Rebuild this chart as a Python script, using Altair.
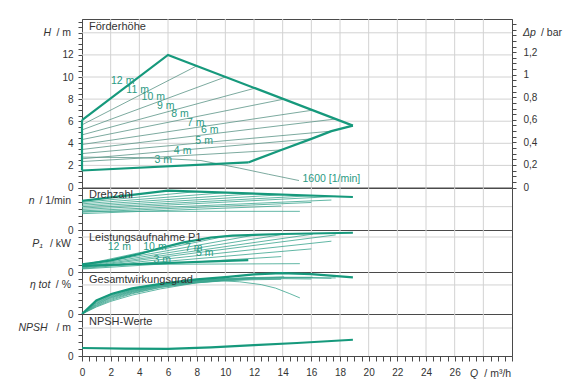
import altair as alt
import pandas as pd

# ---------------- data ----------------
X_DOMAIN = [0, 30]
x_grid = [2, 4, 6, 8, 10, 12, 14, 16, 18, 20, 22, 24, 26, 28]
x_ticks = [i * 0.5 for i in range(61)]

# --- Förderhöhe H [m] ---
H_DOMAIN = [0, 15.25]
h_grid = [2, 4, 6, 8, 10, 12, 14]
h_ticks = [i * 0.5 for i in range(31)]
DP_DOMAIN = [0, 1.494]
dp_ticks = [round(i * 0.05, 2) for i in range(30)]

env_top_q = [0.0, 6.0, 18.9]
env_top_h = [6.1, 12.0, 5.6]
env_right_q = [11.6, 13.9, 16.0, 17.4, 18.9]
env_right_h = [2.27, 3.4, 4.4, 5.1, 5.6]
env_bottom_q = [0.0, 11.6]
env_bottom_h = [1.54, 2.27]
env_left_q = [0.0, 0.0]
env_left_h = [1.54, 6.1]

dpv_names = ["11 m", "10 m", "9 m", "8 m", "7 m", "6 m", "5 m", "4 m", "3 m"]
dpv_h_start = [5.67, 5.21, 4.76, 4.34, 3.89, 3.44, 3.07, 2.6, 2.35]
dpv_q_end = [8.0, 10.0, 12.1, 14.1, 16.1, 17.7, 17.4, 16.0, 13.9]
dpv_h_end = [11.0, 10.0, 9.0, 8.0, 7.0, 6.2, 5.1, 4.4, 3.4]

min_speed_q = [0.0, 4.0, 6.0, 8.3, 11.0, 13.0, 15.14]
min_speed_h = [2.75, 2.7, 2.6, 2.44, 1.75, 1.2, 0.63]

h_label_text = ["12 m", "11 m", "10 m", "9 m", "8 m", "7 m", "6 m", "5 m", "4 m", "3 m"]
h_label_q = [2.84, 3.88, 4.97, 5.85, 6.83, 7.94, 8.92, 8.52, 7.02, 5.67]
h_label_h = [9.61, 8.86, 8.16, 7.39, 6.66, 5.88, 5.22, 4.25, 3.28, 2.5]
min_label_text = ["1600 [1/min]"]
min_label_q = [15.38]
min_label_h = [0.79]

# --- Drehzahl n [1/min] ---
N_DOMAIN = [0, 3600]
n_ticks = [0, 600, 1200, 1800, 2400, 3000, 3600]
n_grid = [2000]
n_thick_q = [0.0, 6.0, 18.9]
n_thick_v = [2490, 3370, 2830]
n_start = [2360, 2240, 2120, 2000, 1880, 1760, 1640, 1520, 1400]
n_end = [3290, 3200, 3115, 3030, 2945, 2880, 2570, 2360, 2060]
n_min_q = [0.0, 15.2]
n_min_v = [1600, 1600]

# --- Leistungsaufnahme P1 [kW] ---
P_DOMAIN = [0, 0.6]
p_ticks = [0, 0.1, 0.2, 0.3, 0.4, 0.5, 0.6]
p_grid = [0.5]
p_thick_q = [0.0, 2.0, 4.0, 5.5, 7.0, 9.0, 10.5, 14.0, 18.9]
p_thick_v = [0.110, 0.164, 0.257, 0.343, 0.421, 0.493, 0.521, 0.543, 0.561]
p_low_q = [0.0, 11.6]
p_low_v = [0.086, 0.171]
p_start = [0.100, 0.093, 0.086, 0.079, 0.071, 0.064, 0.057, 0.050, 0.043]
p_end = [0.45, 0.51, 0.53, 0.54, 0.54, 0.53, 0.44, 0.33, 0.22]
p_min_q = [0.0, 15.2]
p_min_v = [0.105, 0.119]
p_label_text = ["12 m", "10 m", "7 m", "5 m", "3 m"]
p_label_q = [2.61, 5.09, 7.8, 8.57, 5.6]
p_label_v = [0.353, 0.353, 0.336, 0.271, 0.171]

# --- Gesamtwirkungsgrad eta [%] ---
E_DOMAIN = [0, 60]
e_ticks = [0, 10, 20, 30, 40, 50, 60]
e_grid = [41.5]
e_thick_q = [0, 1, 2.1, 3.5, 5.6, 8, 10.2, 12, 13.9, 16, 18.9]
e_thick_v = [0, 19.5, 29, 36.5, 43.5, 49.5, 53, 56.5, 58.5, 57, 52.4]
e11_q = [0, 1, 2, 3.5, 5.5, 8.0]
e11_v = [0, 19, 28.5, 35.5, 42.5, 48.5]
e10_q = [0, 1, 2, 3.5, 5.5, 8, 10.0]
e10_v = [0, 18, 27.5, 35, 42, 48, 51]
e9_q = [0, 1, 2, 3.5, 5.5, 8, 10, 12.1]
e9_v = [0, 17, 26.5, 34, 41.5, 47.5, 50.5, 52.5]
e8_q = [0, 1, 2, 3.5, 5.5, 8, 10, 12, 14.1]
e8_v = [0, 16, 25.5, 33.5, 41, 47, 50, 52, 53]
e7_q = [0, 1, 2, 3.5, 5.5, 8, 10, 12, 14, 16.1]
e7_v = [0, 15, 24.5, 32.5, 40.5, 46.5, 49.5, 51.5, 52.5, 52.5]
e6_q = [0, 1, 2, 3.5, 5.5, 8, 10, 12, 14, 16, 17.7]
e6_v = [0, 14, 23.5, 32, 40, 46, 49, 51, 52, 52, 51.5]
e5_q = [0, 1, 2, 3.5, 5.5, 8, 10, 12, 14, 16, 17.4]
e5_v = [0, 13, 22.5, 31, 39.5, 45.5, 48.5, 50.5, 51.5, 51.5, 51]
e4_q = [0, 1, 2, 3.5, 5.5, 8, 10, 12, 14, 16.0]
e4_v = [0, 12, 21, 30, 38.5, 45, 48, 50, 50.5, 50]
e3_q = [0, 1, 2, 3.5, 5.5, 8, 10, 12, 13.9]
e3_v = [0, 11, 19.5, 29, 38, 44.5, 47.5, 49, 49.5]
emin_q = [0, 1, 2, 3.5, 5.5, 8, 9.7, 11, 12.5, 13.5, 14.5, 15.2]
emin_v = [0, 10, 18, 27, 36, 44.5, 47.5, 46, 42, 37, 29, 23]

# --- NPSH [m] ---
S_DOMAIN = [0, 3]
s_ticks = [0, 0.5, 1, 1.5, 2, 2.5, 3]
s_grid = [2]
npsh_q = [0, 3, 6, 9, 12, 15, 18.9]
npsh_v = [0.57, 0.53, 0.51, 0.62, 0.77, 0.93, 1.16]

# ---------------- styles ----------------
W = 430
TEAL = "#16997c"
THIN = "#5b9487"
THIN2 = "#3aa58e"
LABEL = "#2a9a83"
GRID = "#d2d2d2"
DARK = "#4a4a4a"
TXT = "#333333"
FONT = "Liberation Sans"
ZERO_ONLY = "datum.value == 0 ? '0' : ''"


def lines_df(names, qs_list, vs_list):
    rows = []
    for name, qs, vs in zip(names, qs_list, vs_list):
        for i, (q, v) in enumerate(zip(qs, vs)):
            rows.append({"s": name, "q": q, "v": v, "o": i})
    return pd.DataFrame(rows)


def left_axis(values, expr):
    return alt.Axis(values=values, labelExpr=expr, title=None, grid=False, orient="left",
                    tickSize=4, labelPadding=5, labelOverlap=False, labelFontSize=10,
                    labelFont=FONT, labelColor=TXT, tickColor=DARK, domainColor=DARK)


bottom_axis = alt.Axis(values=x_ticks, orient="bottom", title=None, grid=False, tickSize=5,
                       labelPadding=6, labelOverlap=False, labelFlush=False, labelFontSize=10,
                       labelFont=FONT, labelColor=TXT, tickColor=DARK, domainColor=DARK,
                       labelExpr="datum.value % 2 == 0 && datum.value <= 26 ? format(datum.value, 'd') : ''")


class Panel:
    """Helper holding the x/y scale + axis of one panel so every layer shares them."""

    def __init__(self, ydom, yaxis, xaxis=None):
        self.ydom = ydom
        self.yaxis = yaxis
        self.xaxis = xaxis

    def x(self):
        return alt.X("q:Q", scale=alt.Scale(domain=X_DOMAIN, nice=False, zero=False), axis=self.xaxis)

    def y(self):
        return alt.Y("v:Q", scale=alt.Scale(domain=self.ydom, nice=False, zero=False), axis=self.yaxis)

    def vgrid(self):
        return alt.Chart(pd.DataFrame({"q": x_grid})).mark_rule(color=GRID, strokeWidth=1).encode(x=self.x())

    def hgrid(self, vals):
        return alt.Chart(pd.DataFrame({"v": vals})).mark_rule(color=GRID, strokeWidth=1).encode(y=self.y())

    def lines(self, df, color, width):
        return alt.Chart(df).mark_line(color=color, strokeWidth=width).encode(
            x=self.x(), y=self.y(), detail="s:N", order="o:Q")

    def labels(self, txt, qs, vs, align="center"):
        df = pd.DataFrame({"t": txt, "q": qs, "v": vs})
        return alt.Chart(df).mark_text(align=align, baseline="middle", fontSize=10.5, font=FONT,
                                       color=LABEL).encode(x=self.x(), y=self.y(), text="t:N")


def note(t, px, py, align, italic=False, size=10.5, color=TXT):
    return alt.Chart(pd.DataFrame({"t": [t]})).mark_text(
        align=align, baseline="middle", fontSize=size, font=FONT,
        fontStyle="italic" if italic else "normal", color=color
    ).encode(x=alt.value(px), y=alt.value(py), text="t:N")


# ---------------- H panel ----------------
HP = Panel(H_DOMAIN, left_axis(h_ticks, "datum.value % 2 == 0 && datum.value <= 12 ? format(datum.value, 'd') : ''"))
env_df = lines_df(["top", "right", "bottom", "left"],
                  [env_top_q, env_right_q, env_bottom_q, env_left_q],
                  [env_top_h, env_right_h, env_bottom_h, env_left_h])
dpv_df = lines_df(dpv_names, [[0.0, q] for q in dpv_q_end],
                  [[a, b] for a, b in zip(dpv_h_start, dpv_h_end)])
min_df = lines_df(["1600"], [min_speed_q], [min_speed_h])

anchor = alt.Chart(pd.DataFrame({"a": [0]})).mark_rule(color="white", strokeWidth=1).encode(
    x=alt.value(-73), x2=alt.value(-72), y=alt.value(-10), y2=alt.value(-10)
)

h_main = alt.layer(
    HP.vgrid(),
    HP.hgrid(h_grid),
    HP.lines(dpv_df, THIN, 0.8),
    HP.lines(min_df, THIN, 0.8),
    HP.lines(env_df, TEAL, 2.2),
    HP.labels(h_label_text, h_label_q, h_label_h),
    HP.labels(min_label_text, min_label_q, min_label_h, align="left"),
    note("H", -31, 13.8, "right", italic=True),
    note("/ m", -11, 13.8, "right"),
    note("Δp", 441, 13.8, "left", italic=True),
    note("/ bar", 459, 13.8, "left"),
    note("Förderhöhe", 7, 8.2, "left", size=11),
    anchor,
)
dp_layer = alt.Chart(pd.DataFrame({"dp": DP_DOMAIN})).mark_point(opacity=0).encode(
    y=alt.Y("dp:Q", scale=alt.Scale(domain=DP_DOMAIN, nice=False, zero=False),
            axis=alt.Axis(values=dp_ticks, orient="right", title=None, grid=False, tickSize=4,
                          labelPadding=7, labelOverlap=False, labelFontSize=10, labelFont=FONT,
                          labelColor=TXT, tickColor=DARK, domainColor=DARK,
                          labelExpr="abs(datum.value*5 - round(datum.value*5)) < 0.001 && datum.value < 1.3 ? replace(format(datum.value, '~g'), '.', ',') : ''"))
)
h_panel = alt.layer(h_main, dp_layer).resolve_scale(y="independent").properties(width=W, height=168.5)

# ---------------- n panel ----------------
NP = Panel(N_DOMAIN, left_axis(n_ticks, ZERO_ONLY))
n_lines_df = lines_df(dpv_names, [[0.0, q] for q in dpv_q_end], [[a, b] for a, b in zip(n_start, n_end)])
n_panel = alt.layer(
    NP.vgrid(),
    NP.hgrid(n_grid),
    NP.lines(n_lines_df, THIN2, 0.8),
    NP.lines(lines_df(["1600"], [n_min_q], [n_min_v]), THIN2, 0.8),
    NP.lines(lines_df(["max"], [n_thick_q], [n_thick_v]), TEAL, 2.2),
    note("n", -47.5, 13, "right", italic=True),
    note("/ 1/min", -11, 13, "right"),
    note("Drehzahl", 7, 7.3, "left", size=11),
).properties(width=W, height=42)

# ---------------- P1 panel ----------------
PP = Panel(P_DOMAIN, left_axis(p_ticks, ZERO_ONLY))
p_lines_df = lines_df(dpv_names, [[0.0, q] for q in dpv_q_end], [[a, b] for a, b in zip(p_start, p_end)])
p_panel = alt.layer(
    PP.vgrid(),
    PP.hgrid(p_grid),
    PP.lines(p_lines_df, THIN2, 0.8),
    PP.lines(lines_df(["1600"], [p_min_q], [p_min_v]), THIN2, 0.8),
    PP.lines(lines_df(["max", "low"], [p_thick_q, p_low_q], [p_thick_v, p_low_v]), TEAL, 2.2),
    PP.labels(p_label_text, p_label_q, p_label_v),
    note("P₁", -39.3, 14.3, "right", italic=True),
    note("/ kW", -11, 14.3, "right"),
    note("Leistungsaufnahme P1", 7, 8.3, "left", size=11),
).properties(width=W, height=42)

# ---------------- eta panel ----------------
EP = Panel(E_DOMAIN, left_axis(e_ticks, ZERO_ONLY))
e_lines_df = lines_df(dpv_names + ["1600"],
                      [e11_q, e10_q, e9_q, e8_q, e7_q, e6_q, e5_q, e4_q, e3_q, emin_q],
                      [e11_v, e10_v, e9_v, e8_v, e7_v, e6_v, e5_v, e4_v, e3_v, emin_v])
e_panel = alt.layer(
    EP.vgrid(),
    EP.hgrid(e_grid),
    EP.lines(e_lines_df, THIN2, 0.8),
    EP.lines(lines_df(["max"], [e_thick_q], [e_thick_v]), TEAL, 2.2),
    note("η tot", -31.7, 13.3, "right", italic=True),
    note("/ %", -11, 13.3, "right"),
    note("Gesamtwirkungsgrad", 7, 8, "left", size=11),
).properties(width=W, height=42)

# ---------------- NPSH panel ----------------
SP = Panel(S_DOMAIN, left_axis(s_ticks, ZERO_ONLY), xaxis=bottom_axis)
s_panel = alt.layer(
    SP.vgrid(),
    SP.hgrid(s_grid),
    SP.lines(lines_df(["npsh"], [npsh_q], [npsh_v]), TEAL, 2.2),
    note("NPSH", -34.3, 13.7, "right", italic=True),
    note("/ m", -11, 13.7, "right"),
    note("NPSH-Werte", 7, 7.7, "left", size=11),
    note("Q", 388, 59.7, "left", italic=True),
    note("/ m³/h", 402.3, 59.7, "left"),
).properties(width=W, height=42)

chart = alt.vconcat(h_panel, n_panel, p_panel, e_panel, s_panel, spacing=0, bounds="flush").properties(
    padding={"left": 0, "top": 0, "right": 5, "bottom": 5}, background="white"
).configure_view(stroke=DARK, strokeWidth=1).configure_text(font=FONT)

chart.save("out.html", embed_options={"renderer": "svg", "actions": False})
